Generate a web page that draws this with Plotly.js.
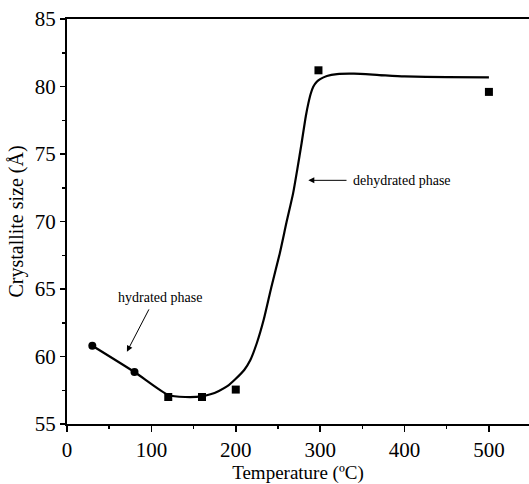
<!DOCTYPE html>
<html>
<head>
<meta charset="utf-8">
<script src="https://cdn.plot.ly/plotly-3.0.1.min.js"></script>
<style>html,body{margin:0;padding:0;background:#fff;}#chart{width:529px;height:484px;}</style>
</head>
<body>
<div id="chart"></div>
<script>
// Measured points
const circleX = [30, 80];
const circleY = [60.8, 58.85];
const squareX = [120, 160, 200, 298, 500];
const squareY = [57.0, 57.0, 57.55, 81.2, 79.6];

// Fitted curve
const curveX = [30, 80, 120, 140, 160, 170, 180, 190, 200, 210, 217, 225, 233, 242, 252, 260, 268, 273, 278, 283, 286, 289, 292, 296, 300, 308, 320, 340, 370, 400, 450, 500];
const curveY = [60.8, 58.85, 57.15, 57.0, 57.05, 57.2, 57.45, 57.8, 58.35, 59.0, 59.7, 61.0, 62.7, 65.1, 67.6, 69.9, 72.1, 73.9, 75.8, 77.8, 78.75, 79.5, 80.0, 80.35, 80.55, 80.78, 80.92, 80.95, 80.85, 80.75, 80.7, 80.67];

const xTicks = [0, 100, 200, 300, 400, 500];
const yTicks = [55, 60, 65, 70, 75, 80, 85];

const serif = 'Liberation Serif, Times New Roman, serif';

const traces = [
  {x: curveX, y: curveY, mode: 'lines', type: 'scatter',
   line: {color: '#000', width: 2.2, shape: 'spline', smoothing: 0.6}, hoverinfo: 'skip'},
  {x: circleX, y: circleY, mode: 'markers', type: 'scatter',
   marker: {symbol: 'circle', size: 8, color: '#000'}},
  {x: squareX, y: squareY, mode: 'markers', type: 'scatter',
   marker: {symbol: 'square', size: 8, color: '#000'}}
];

const layout = {
  width: 529, height: 484,
  margin: {l: 67, r: 0, t: 19, b: 60},
  paper_bgcolor: '#fff', plot_bgcolor: '#fff',
  showlegend: false,
  font: {family: serif, color: '#000', size: 20},
  xaxis: {
    range: [0, 547.5], tickvals: xTicks, ticktext: xTicks.map(String),
    showgrid: false, zeroline: false, showline: true, linecolor: '#000', linewidth: 2,
    mirror: true, ticks: 'outside', ticklen: 6, tickwidth: 1.5, tickcolor: '#000',
    minor: {dtick: 50, tick0: 0, ticks: 'outside', ticklen: 3, tickwidth: 1.5, tickcolor: '#000'},
    tickfont: {family: serif, size: 21, color: '#000'},
    title: {text: 'Temperature (ºC)', font: {family: serif, size: 19, color: '#000'}, standoff: 4}
  },
  yaxis: {
    range: [55, 85], tickvals: yTicks, ticktext: yTicks.map(String),
    showgrid: false, zeroline: false, showline: true, linecolor: '#000', linewidth: 2,
    ticks: 'outside', ticklen: 5, tickwidth: 1.5, tickcolor: '#000',
    minor: {dtick: 2.5, tick0: 55, ticks: 'outside', ticklen: 3, tickwidth: 1.5, tickcolor: '#000'},
    tickfont: {family: serif, size: 21, color: '#000'},
    title: {text: 'Crystallite size (Å)', font: {family: serif, size: 20, color: '#000'}, standoff: 6}
  },
  annotations: [
    {x: 286, y: 73.05, ax: 333, ay: 73.05, xref: 'x', yref: 'y', axref: 'x', ayref: 'y',
     text: '', showarrow: true, arrowhead: 2, arrowsize: 1.2, arrowwidth: 1, arrowcolor: '#000'},
    {x: 337, y: 73.05, xref: 'x', yref: 'y', text: 'dehydrated phase', showarrow: false,
     xanchor: 'left', yanchor: 'middle', font: {family: serif, size: 14, color: '#000'}},
    {x: 71, y: 60.35, ax: 98, ay: 63.6, xref: 'x', yref: 'y', axref: 'x', ayref: 'y',
     text: '', showarrow: true, arrowhead: 2, arrowsize: 1.2, arrowwidth: 1, arrowcolor: '#000'},
    {x: 110, y: 64.4, xref: 'x', yref: 'y', text: 'hydrated phase', showarrow: false,
     xanchor: 'center', yanchor: 'middle', font: {family: serif, size: 14, color: '#000'}}
  ]
};

Plotly.newPlot('chart', traces, layout, {displayModeBar: false, staticPlot: true});
</script>
</body>
</html>
